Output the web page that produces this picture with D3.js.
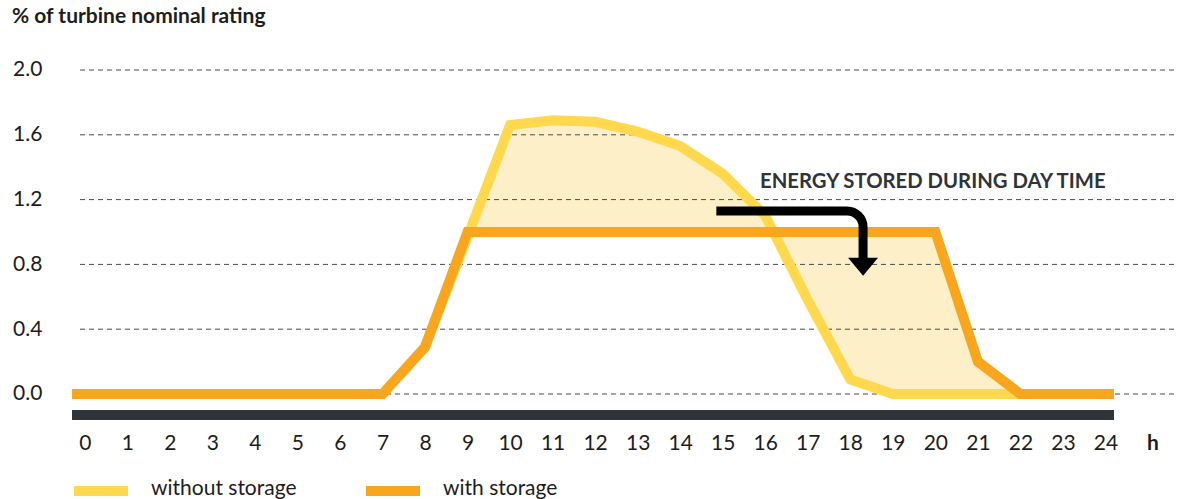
<!DOCTYPE html>
<html>
<head>
<meta charset="utf-8">
<script src="https://cdn.jsdelivr.net/npm/d3@7"></script>
<style>
  html, body { margin: 0; padding: 0; background: #fff; }
  svg { display: block; font-family: Lato, "Open Sans", sans-serif; }
</style>
</head>
<body>
<svg id="chart" width="1178" height="499"></svg>
<script>
// Hourly output as a share of the turbine nominal rating
const hours = d3.range(0, 25);
const withoutStorage = [0, 0, 0, 0, 0, 0, 0, 0, 0.29, 0.97, 1.66, 1.69, 1.68, 1.62, 1.53, 1.36, 1.1, 0.58, 0.09, 0, 0, 0, 0, 0, 0];
const withStorage    = [0, 0, 0, 0, 0, 0, 0, 0, 0.29, 1.0, 1.0, 1.0, 1.0, 1.0, 1.0, 1.0, 1.0, 1.0, 1.0, 1.0, 1.0, 0.2, 0, 0, 0];
const yTicks = [0, 0.4, 0.8, 1.2, 1.6, 2.0];
const xTicks = d3.range(0, 25);
const seriesNames = ["without storage", "with storage"];
const seriesColors = ["#ffd84e", "#f9a61f"];
const annotation = "ENERGY STORED DURING DAY TIME";
const yTitle = "% of turbine nominal rating";
const xUnit = "h";

const svg = d3.select("#chart");

// plot extends slightly past the first and last hour
const x = d3.scaleLinear().domain([-0.3, 24.2]).range([72, 1114]);
const y = d3.scaleLinear().domain([0, 2]).range([394, 70]);

// series padded out to the plot edges
function padded(values) {
  const [d0, d1] = x.domain();
  const pts = hours.map((h, i) => [h, values[i]]);
  return [[d0, values[0]], ...pts, [d1, values[values.length - 1]]];
}

const paddedWith = padded(withStorage);
const both = padded(withoutStorage).map((p, i) => ({ h: p[0], a: p[1], b: paddedWith[i][1] }));

// shaded band between the two profiles
svg.append("path")
  .datum(both)
  .attr("fill", "#fdf0c9")
  .attr("d", d3.area().x(d => x(d.h)).y0(d => y(d.b)).y1(d => y(d.a)));

// dashed grid
svg.append("g").selectAll("line")
  .data(yTicks)
  .join("line")
  .attr("x1", 80).attr("x2", 1178)
  .attr("y1", d => y(d)).attr("y2", d => y(d))
  .attr("stroke", "#4a4a4a")
  .attr("stroke-width", 1)
  .attr("stroke-dasharray", "5,4");

// y tick labels
svg.append("g").selectAll("text")
  .data(yTicks)
  .join("text")
  .attr("x", 13)
  .attr("y", d => y(d))
  .attr("dy", "0.3em")
  .attr("font-size", 21)
  .attr("fill", "#1d1d1b")
  .text(d => d.toFixed(1));

// y title
svg.append("text")
  .attr("x", 12).attr("y", 23)
  .attr("font-size", 21)
  .attr("font-weight", 700)
  .attr("fill", "#1d1d1b")
  .text(yTitle);

// base bar
svg.append("rect")
  .attr("x", x(x.domain()[0]))
  .attr("width", x(x.domain()[1]) - x(x.domain()[0]))
  .attr("y", 410).attr("height", 10)
  .attr("fill", "#2e3438");

// x axis labels
const xAxis = d3.axisBottom(x).tickValues(xTicks).tickSize(0).tickPadding(0).tickFormat(d3.format("d"));
const gx = svg.append("g").attr("transform", "translate(0,435)").call(xAxis);
gx.select(".domain").remove();
gx.selectAll("text")
  .attr("font-family", "Lato, 'Open Sans', sans-serif")
  .attr("font-size", 21)
  .attr("fill", "#1d1d1b")
  .attr("dy", "0.71em");
svg.append("text")
  .attr("x", 1153).attr("y", 443)
  .attr("dy", "0.35em")
  .attr("text-anchor", "middle")
  .attr("font-size", 21)
  .attr("font-weight", 700)
  .attr("fill", "#1d1d1b")
  .text(xUnit);

// profile lines
const line = d3.line().x(d => x(d[0])).y(d => y(d[1]));
[withoutStorage, withStorage].forEach((vals, i) => {
  svg.append("path")
    .datum(padded(vals))
    .attr("fill", "none")
    .attr("stroke", seriesColors[i])
    .attr("stroke-width", 10)
    .attr("stroke-linejoin", "miter")
    .attr("d", line);
});

// annotation arrow
const ax0 = x(14.85), ay = y(1.13), axv = x(18.3), ayEnd = y(0.73), r = 16, head = 18;
svg.append("path")
  .attr("fill", "none")
  .attr("stroke", "#000")
  .attr("stroke-width", 9)
  .attr("d", `M${ax0},${ay} H${axv - r} A${r},${r} 0 0 1 ${axv},${ay + r} V${ayEnd - head + 1}`);
svg.append("path")
  .attr("fill", "#000")
  .attr("d", `M${axv - 15},${ayEnd - head} L${axv + 15},${ayEnd - head} L${axv},${ayEnd} Z`);

svg.append("text")
  .attr("x", 760).attr("y", 188)
  .attr("font-size", 20.3)
  .attr("font-weight", 700)
  .attr("fill", "#2e3438")
  .text(annotation);

// legend
const legendX = [74, 366];
seriesNames.forEach((name, i) => {
  svg.append("rect")
    .attr("x", legendX[i]).attr("y", 486)
    .attr("width", 54).attr("height", 10)
    .attr("fill", seriesColors[i]);
  svg.append("text")
    .attr("x", legendX[i] + 77).attr("y", 495)
    .attr("font-size", 21)
    .attr("fill", "#1d1d1b")
    .text(name);
});
</script>
</body>
</html>
